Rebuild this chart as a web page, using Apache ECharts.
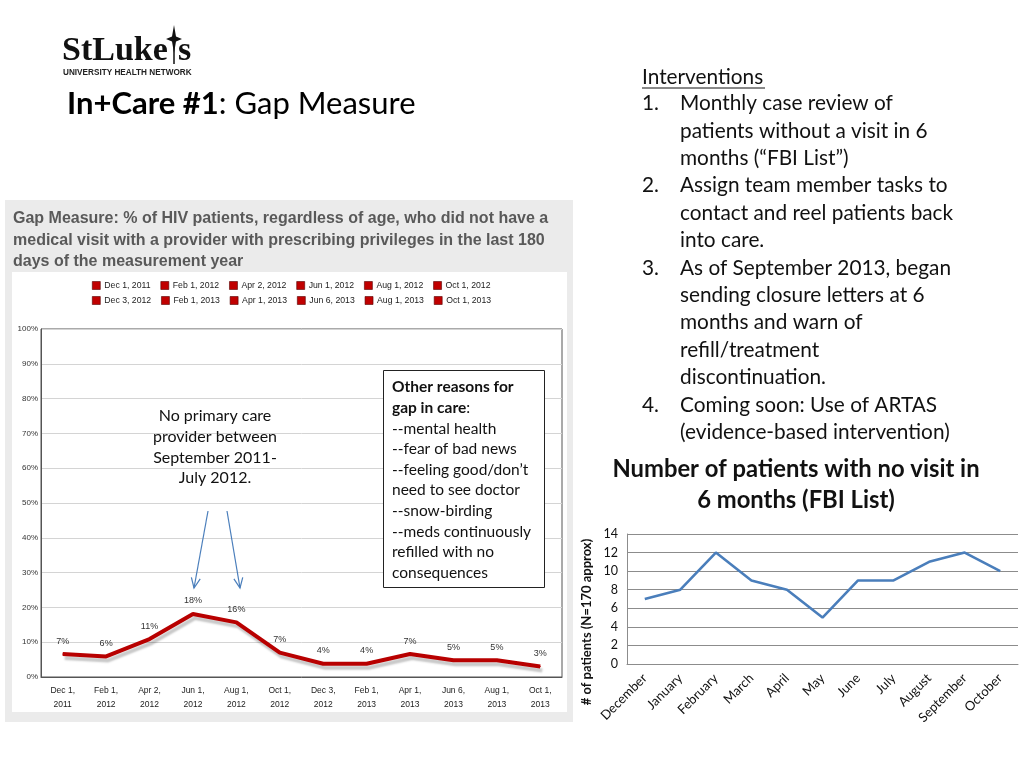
<!DOCTYPE html>
<html><head><meta charset="utf-8">
<script src="https://cdn.jsdelivr.net/npm/echarts@6/dist/echarts.min.js"></script>
<style>html,body{margin:0;padding:0;background:#fff}#c{width:1024px;height:768px}</style>
</head><body><div id="c"></div>
<script>
// ---- data ----
const gapCategories = ['Dec 1, 2011','Feb 1, 2012','Apr 2, 2012','Jun 1, 2012','Aug 1, 2012','Oct 1, 2012','Dec 3, 2012','Feb 1, 2013','Apr 1, 2013','Jun 6, 2013','Aug 1, 2013','Oct 1, 2013'];
const gapValues = [6.6, 5.9, 10.9, 18.1, 15.7, 7.0, 3.8, 3.8, 6.6, 4.8, 4.8, 3.0];
const fbiMonths = ['December','January','February','March','April','May','June','July','August','September','October'];
const fbiCounts = [7, 8, 12, 9, 8, 5, 9, 9, 11, 12, 10];
const interventionLines = [
  ['1.', 'Monthly case review of'], ['', 'patients without a visit in 6'], ['', 'months (\u201CFBI List\u201D)'],
  ['2.', 'Assign team member tasks to'], ['', 'contact and reel patients back'], ['', 'into care.'],
  ['3.', 'As of September 2013, began'], ['', 'sending closure letters at 6'], ['', 'months and warn of'], ['', 'refill/treatment'], ['', 'discontinuation.'],
  ['4.', 'Coming soon: Use of ARTAS'], ['', '(evidence-based intervention)']
];
const noPcpNote = ['No primary care', 'provider between', 'September 2011-', 'July 2012.'];
const reasonLines = ['--mental health', '--fear of bad news', '--feeling good/don\u2019t', 'need to see doctor', '--snow-birding', '--meds continuously', 'refilled with no', 'consequences'];

const SLIDE_FONT = 'Lato, "Open Sans", sans-serif';
const ARIAL = '"Liberation Sans", Arial, sans-serif';
const SERIF = '"Liberation Serif", "DejaVu Serif", serif';
const chart = echarts.init(document.getElementById('c'), null, {renderer: 'canvas'});

function arrow(x1, y1, x2, y2) {
  const dx = x2 - x1, dy = y2 - y1, L = Math.hypot(dx, dy);
  const ux = dx / L, uy = dy / L, h = 11, a = 0.42;
  const c = Math.cos(a), s = Math.sin(a);
  const l1 = [x2 - h * (ux * c - uy * s), y2 - h * (uy * c + ux * s)];
  const l2 = [x2 - h * (ux * c + uy * s), y2 - h * (uy * c - ux * s)];
  return [
    {type: 'line', z: 100, shape: {x1, y1, x2, y2}, style: {stroke: '#4a7ebb', lineWidth: 1.2}},
    {type: 'polyline', z: 100, shape: {points: [l1, [x2, y2], l2]}, style: {stroke: '#4a7ebb', lineWidth: 1.2, fill: null}}
  ];
}

const graphics = [
  // left panel backgrounds
  {type: 'rect', z: -10, shape: {x: 5, y: 200, width: 568, height: 522}, style: {fill: '#ebebeb'}},
  {type: 'rect', z: -9, shape: {x: 12, y: 272, width: 555, height: 440}, style: {fill: '#ffffff'}},
  // logo
  {type: 'text', z: 100, style: {text: 'StLuke', x: 62, y: 51, font: 'bold 34px ' + SERIF, fill: '#111', verticalAlign: 'middle'}},
  {type: 'text', z: 100, style: {text: 's', x: 178, y: 51, font: 'bold 34px ' + SERIF, fill: '#111', verticalAlign: 'middle'}},
  {type: 'polygon', z: 100, shape: {points: [[174,25],[176,36.5],[182,39],[176,41.5],[174,53],[172,41.5],[166,39],[172,36.5]]}, style: {fill: '#111'}},
  {type: 'line', z: 100, shape: {x1: 174, y1: 40, x2: 174, y2: 64}, style: {stroke: '#111', lineWidth: 1.5}},
  {type: 'text', z: 100, style: {text: 'UNIVERSITY HEALTH NETWORK', x: 63, y: 73, font: 'bold 8.2px ' + ARIAL, fill: '#222', verticalAlign: 'middle'}},
  // slide title
  {type: 'text', z: 100, style: {text: '{b|In+Care #1}{n|: Gap Measure}', x: 67, y: 104, verticalAlign: 'middle',
    rich: {b: {font: 'bold 31px ' + SLIDE_FONT, fill: '#000'}, n: {font: '31px ' + SLIDE_FONT, fill: '#000'}}}},
  // interventions header
  {type: 'text', z: 100, style: {text: 'Interventions', x: 642, y: 77, font: '20.8px ' + SLIDE_FONT, fill: '#111', verticalAlign: 'middle'}},
  {type: 'line', z: 100, shape: {x1: 642, y1: 88, x2: 765, y2: 88}, style: {stroke: '#111', lineWidth: 1}},
  // left chart title
  {type: 'text', z: 100, style: {text: 'Gap Measure: % of HIV patients, regardless of age, who did not have a\nmedical visit with a provider with prescribing privileges in the last 180\ndays of the measurement year',
    x: 13, y: 208, font: 'bold 16px ' + ARIAL, lineHeight: 21.5, fill: '#595959'}},
  // no PCP note
  {type: 'text', z: 100, style: {text: noPcpNote.join('\n'), x: 215, y: 406, font: '16px ' + SLIDE_FONT, lineHeight: 20.6, fill: '#111', align: 'center'}},
  // reasons box
  {type: 'rect', z: 99, shape: {x: 383.5, y: 370.5, width: 161, height: 217}, style: {fill: '#fff', stroke: '#222', lineWidth: 1}},
  {type: 'text', z: 100, style: {text: '{b|Other reasons for}\n{b|gap in care}{n|:}\n' + reasonLines.map(t => '{n|' + t.replace(/[{}|]/g, '') + '}').join('\n'),
    x: 392, y: 377, lineHeight: 20.6,
    rich: {b: {font: 'bold 15.5px ' + SLIDE_FONT, fill: '#111', lineHeight: 20.6}, n: {font: '15.5px ' + SLIDE_FONT, fill: '#111', lineHeight: 20.6}}}},
  // right chart title
  {type: 'text', z: 100, style: {text: 'Number of patients with no visit in\n6 months (FBI List)', x: 796, y: 454, font: 'bold 23.8px ' + SLIDE_FONT, lineHeight: 31, fill: '#111', align: 'center'}},
  // right chart y-axis name
  {type: 'text', z: 100, rotation: Math.PI / 2, x: 587, y: 622, style: {text: '# of patients (N=170 approx)', x: 0, y: 0, font: 'bold 13px ' + SLIDE_FONT, fill: '#111', align: 'center', verticalAlign: 'middle'}}
].concat(arrow(208, 511, 194, 588), arrow(227, 511, 240, 588));

interventionLines.forEach((ln, i) => {
  const y = 103.5 + i * 27.4;
  if (ln[0]) graphics.push({type: 'text', z: 100, style: {text: ln[0], x: 642, y, font: '20.8px ' + SLIDE_FONT, fill: '#111', verticalAlign: 'middle'}});
  graphics.push({type: 'text', z: 100, style: {text: ln[1], x: 680, y, font: '20.8px ' + SLIDE_FONT, fill: '#111', verticalAlign: 'middle'}});
});

const legendStyle = {left: 92, itemWidth: 8, itemHeight: 8, itemGap: 10, icon: 'rect', padding: 0,
  itemStyle: {borderColor: '#550000', borderWidth: 0.6},
  textStyle: {fontFamily: ARIAL, fontSize: 8.7, color: '#222', padding: [0, 0, 0, -1]}};

const dummySeries = gapCategories.map(name => ({name, type: 'line', data: [], xAxisIndex: 0, yAxisIndex: 0, color: '#c00000', itemStyle: {color: '#c00000'}}));

chart.setOption({
  animation: false,
  textStyle: {fontFamily: SLIDE_FONT},
  graphic: graphics,
  legend: [
    Object.assign({top: 281, data: gapCategories.slice(0, 6)}, legendStyle),
    Object.assign({top: 296, data: gapCategories.slice(6)}, legendStyle)
  ],
  grid: [
    {left: 41, right: 462, top: 329, bottom: 91, show: true, borderColor: '#555', borderWidth: 1, containLabel: false},
    {left: 627, right: 6, top: 534, bottom: 104, containLabel: false}
  ],
  xAxis: [
    {type: 'category', gridIndex: 0, data: gapCategories, boundaryGap: true,
      axisLine: {lineStyle: {color: '#555'}}, axisTick: {show: false},
      axisLabel: {fontFamily: ARIAL, fontSize: 8.5, color: '#222', lineHeight: 14, margin: 7, interval: 0,
        formatter: v => v.replace(', ', ',\n')}},
    {type: 'category', gridIndex: 1, data: fbiMonths, boundaryGap: true,
      axisLine: {lineStyle: {color: '#8c8c8c'}}, axisTick: {show: false},
      axisLabel: {fontFamily: SLIDE_FONT, fontSize: 13, color: '#111', rotate: 45, interval: 0, margin: 12}}
  ],
  yAxis: [
    {type: 'value', gridIndex: 0, min: 0, max: 100, interval: 10,
      axisLine: {show: true, lineStyle: {color: '#555'}}, axisTick: {show: false},
      splitLine: {lineStyle: {color: '#d4d4d4'}},
      axisLabel: {formatter: '{value}%', fontFamily: ARIAL, fontSize: 8, color: '#333', margin: 3}},
    {type: 'value', gridIndex: 1, min: 0, max: 14, interval: 2,
      axisLine: {show: true, lineStyle: {color: '#8c8c8c'}}, axisTick: {show: false},
      splitLine: {lineStyle: {color: '#8c8c8c'}},
      axisLabel: {fontFamily: SLIDE_FONT, fontSize: 12.5, color: '#111', margin: 9}}
  ],
  series: [
    {name: 'Gap Measure', type: 'line', xAxisIndex: 0, yAxisIndex: 0, data: gapValues,
      symbol: 'circle', symbolSize: 1, showSymbol: true, z: 5,
      itemStyle: {color: '#b80000'},
      lineStyle: {color: '#b80000', width: 4, shadowColor: 'rgba(0,0,0,0.22)', shadowOffsetX: 2, shadowOffsetY: 4, shadowBlur: 2},
      label: {show: true, position: 'top', distance: 8, fontFamily: ARIAL, fontSize: 9, color: '#333',
        formatter: p => Math.round(p.value) + '%'}},
    {name: 'FBI List', type: 'line', xAxisIndex: 1, yAxisIndex: 1, data: fbiCounts,
      symbol: 'none', lineStyle: {color: '#4a7ebb', width: 2.6}, itemStyle: {color: '#4a7ebb'}}
  ].concat(dummySeries)
});
</script>
</body></html>
